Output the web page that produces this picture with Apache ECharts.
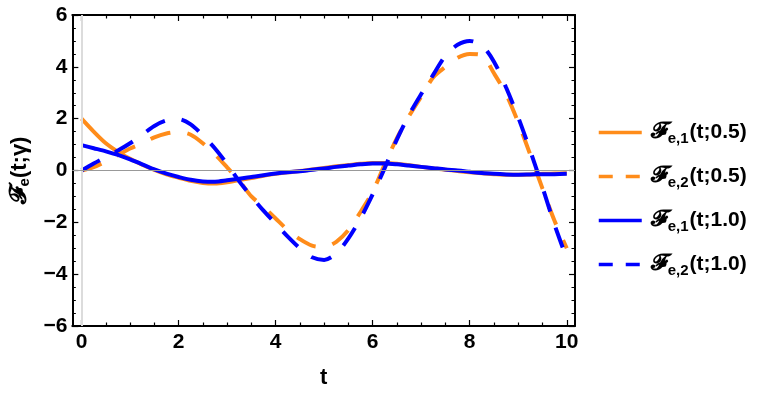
<!DOCTYPE html>
<html><head><meta charset="utf-8">
<script src="https://cdn.jsdelivr.net/npm/echarts@6/dist/echarts.min.js"></script>
<style>html,body{margin:0;padding:0;background:#fff}#c{width:763px;height:394px}</style>
</head><body><div id="c"></div>
<script>
// ---- data ----
const tValues = [0,0.25,0.5,0.75,1,1.25,1.5,1.75,2,2.25,2.5,2.75,3,3.25,3.5,3.75,4,4.25,4.5,4.75,5,5.25,5.5,5.75,6,6.25,6.5,6.75,7,7.25,7.5,7.75,8,8.25,8.5,8.75,9,9.25,9.5,9.75,10];
const fe1_05 = [2.0,1.5,1.05,0.72,0.45,0.22,0.02,-0.15,-0.28,-0.4,-0.48,-0.5,-0.45,-0.37,-0.29,-0.2,-0.13,-0.07,-0.02,0.04,0.1,0.16,0.21,0.26,0.29,0.29,0.26,0.2,0.14,0.08,0.03,-0.02,-0.07,-0.11,-0.14,-0.16,-0.16,-0.15,-0.13,-0.12,-0.11];
const fe2_05 = [0,0.13,0.35,0.6,0.85,1.05,1.28,1.43,1.49,1.38,1.05,0.62,0.12,-0.4,-1.0,-1.4,-1.85,-2.3,-2.65,-2.9,-2.95,-2.75,-2.3,-1.6,-0.82,0.25,1.25,2.1,2.85,3.6,4.0,4.35,4.5,4.45,3.75,2.95,1.85,0.6,-0.7,-1.95,-3.0];
const fe1_10 = [0.98,0.86,0.74,0.6,0.43,0.24,0.04,-0.12,-0.25,-0.36,-0.42,-0.43,-0.38,-0.32,-0.25,-0.18,-0.12,-0.07,-0.03,0.03,0.08,0.14,0.19,0.24,0.27,0.27,0.24,0.19,0.14,0.09,0.04,0.0,-0.05,-0.1,-0.13,-0.15,-0.16,-0.15,-0.14,-0.14,-0.13];
const fe2_10 = [0,0.27,0.52,0.77,1.05,1.38,1.72,1.93,1.98,1.78,1.35,0.85,0.25,-0.42,-1.0,-1.55,-2.05,-2.55,-3.0,-3.35,-3.45,-3.2,-2.62,-1.85,-0.92,0.1,1.2,2.15,2.95,3.7,4.43,4.85,5.0,4.83,4.2,3.2,2.05,0.75,-0.65,-2.1,-3.4];
const xTicks = [0,2,4,6,8,10];
const xMinorTicks = [0.5,1,1.5,2.5,3,3.5,4.5,5,5.5,6.5,7,7.5,8.5,9,9.5];
const seriesNames = ['fe1_05','fe2_05','fe1_10','fe2_10'];
const legendLabels = {
  fe1_05: ['e,1','(t;0.5)'],
  fe2_05: ['e,2','(t;0.5)'],
  fe1_10: ['e,1','(t;1.0)'],
  fe2_10: ['e,2','(t;1.0)']
};

const ORANGE = '#FF8C1A', BLUE = '#0000FF';
const FONT = '"Liberation Sans", Arial, sans-serif';
const SCRIPT_F = '\uD835\uDCD5'; // bold script capital F
const pairs = arr => tValues.map((t,i)=>[t,arr[i]]);
const xMin = -0.19, xMax = 10.17;

const frameLine = {show:true, onZero:false, lineStyle:{color:'#000', width:2}};
function xAxisDef(pos, ticks, len, label){
  return {type:'value', min:xMin, max:xMax, position:pos,
    axisLine: label==='line' || label===true ? frameLine : {show:false, onZero:false},
    axisTick:{show:true, inside:true, length:len, customValues:ticks, lineStyle:{color:'#000', width:1.2}},
    axisLabel: label===true ? {show:true, customValues:xTicks, margin:6, fontFamily:FONT, fontWeight:'bold', fontSize:21, color:'#000'} : {show:false},
    splitLine:{show:false},
    name: label===true ? 't' : '', nameLocation:'middle', nameGap:41,
    nameTextStyle:{fontFamily:FONT, fontWeight:'bold', fontSize:22, color:'#000'}};
}
function yAxisDef(pos, label){
  return {type:'value', min:-6, max:6, interval:2, position:pos,
    axisLine: frameLine,
    axisTick:{show:true, inside:true, length:6, lineStyle:{color:'#000', width:1.2}},
    minorTick:{show:true, splitNumber:4, length:3.5, lineStyle:{color:'#000', width:1}},
    axisLabel: label ? {show:true, margin:5, fontFamily:FONT, fontWeight:'bold', fontSize:21, color:'#000',
      formatter: v => v<0 ? '\u2212'+Math.abs(v) : String(v)} : {show:false},
    splitLine:{show:false},
    name: label ? '{f|'+SCRIPT_F+'}{s|e}{n|(t;\u03b3)}' : '', nameLocation:'middle', nameGap:34, nameRotate:90,
    nameTextStyle:{color:'#000', rich:{
      f:{fontFamily:'"DejaVu Sans", "DejaVu Serif"', fontSize:24, fontWeight:'bold', color:'#000'},
      s:{fontFamily:FONT, fontSize:15, fontWeight:'bold', color:'#000', padding:[10,0,0,0]},
      n:{fontFamily:FONT, fontSize:22, fontWeight:'bold', color:'#000'}}}};
}

const lineSeries = [
  {name:'fe1_05', data:pairs(fe1_05), color:ORANGE, type:'solid'},
  {name:'fe2_05', data:pairs(fe2_05), color:ORANGE, type:[21,17]},
  {name:'fe1_10', data:pairs(fe1_10), color:BLUE, type:'solid'},
  {name:'fe2_10', data:pairs(fe2_10), color:BLUE, type:[21,17]}
].map(s=>({name:s.name, type:'line', data:s.data, smooth:0.3, symbol:'none', showSymbol:false,
  color:s.color, lineStyle:{color:s.color, width:4, type:s.type, cap:'butt'}, z:3}));

const legendTops = [116, 160, 204, 248];
const legends = seriesNames.map((n,i)=>({
  orient:'vertical', left:592, top:legendTops[i], data:[n],
  itemWidth:43, itemHeight:4, itemGap:0, selectedMode:false,
  itemStyle:{opacity:0},
  lineStyle:{width:3.5, type: i%2===1 ? [14,13] : 'solid'},
  formatter: name => '{f|'+SCRIPT_F+'}{s|'+legendLabels[name][0]+'}{n|'+legendLabels[name][1]+'}',
  textStyle:{color:'#000', rich:{
    f:{fontFamily:'"DejaVu Sans", "DejaVu Serif"', fontSize:23, fontWeight:'bold', color:'#000', padding:[0,0,0,4]},
    s:{fontFamily:FONT, fontSize:15, fontWeight:'bold', color:'#000', padding:[12,1,0,0]},
    n:{fontFamily:FONT, fontSize:21, fontWeight:'bold', color:'#000'}}}
}));

const chart = echarts.init(document.getElementById('c'), null, {renderer:'canvas'});
chart.setOption({
  animation:false,
  backgroundColor:'#fff',
  grid:{left:65, right:188, top:15, bottom:64, containLabel:false},
  legend: legends,
  xAxis:[
    xAxisDef('bottom', xTicks, 6, true),
    xAxisDef('bottom', xMinorTicks, 3.5, false),
    xAxisDef('top', xTicks, 6, 'line'),
    xAxisDef('top', xMinorTicks, 3.5, false)
  ],
  yAxis:[ yAxisDef('left', true), yAxisDef('right', false) ],
  series:[
    {type:'line', data:[], silent:true, z:1, markLine:{silent:true, symbol:['none','none'], label:{show:false},
      data:[
        {xAxis:0, lineStyle:{color:'#dcdcdc', width:2, type:'solid'}},
        {yAxis:0, lineStyle:{color:'#999', width:1, type:'solid'}}
      ]}}
  ].concat(lineSeries)
});
</script></body></html>
